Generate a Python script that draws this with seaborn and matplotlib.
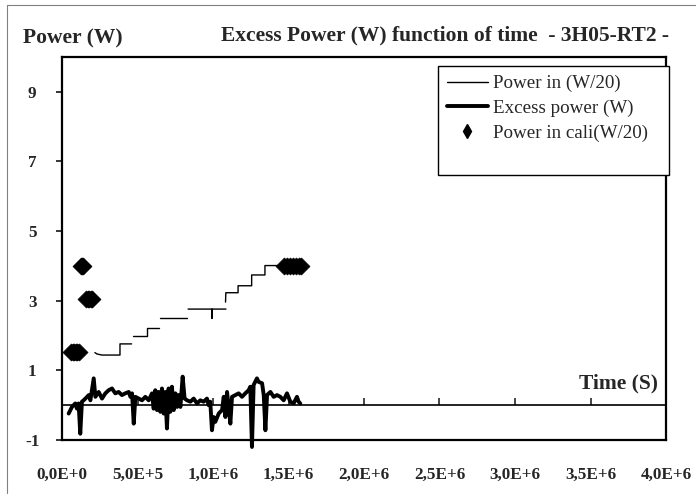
import matplotlib
matplotlib.use("Agg")
import numpy as np
import pandas as pd
import matplotlib.pyplot as plt
from matplotlib.lines import Line2D
import seaborn as sns

# --- data (time in kiloseconds, power in W) ---
# Power in (W/20): stepped trace, drawn in separate pieces
power_in_seg = [1] * 6 + [2] * 4 + [3] * 2 + [4] * 5 + [5] * 9
power_in_time_k = [218, 232, 265, 384, 384, 461,
                   470, 563, 563, 642,
                   649, 828,
                   835, 992, 993, 994, 1086,
                   1083, 1085, 1166, 1166, 1256, 1256, 1344, 1344, 1560]
power_in_val = [1.51, 1.47, 1.44, 1.44, 1.76, 1.76,
                2.00, 2.00, 2.23, 2.23,
                2.49, 2.49,
                2.76, 2.76, 2.49, 2.76, 2.76,
                2.96, 3.23, 3.23, 3.43, 3.43, 3.74, 3.74, 4.01, 4.01]

# Excess power (W)
excess_time_k = [44, 66, 88, 99, 110, 121, 132, 143, 155, 177,
                 188, 210, 221, 243, 265, 287, 309, 331, 353, 375,
                 397, 419, 442, 453, 464, 475, 486, 508, 530, 552,
                 574, 596, 607, 618, 629, 640, 651, 662, 673, 684,
                 695, 706, 717, 728, 740, 751, 762, 773, 784, 799,
                 812, 828, 850, 872, 894, 916, 938, 960, 971, 982,
                 993, 1004, 1015, 1038, 1060, 1071, 1082, 1093, 1104, 1115,
                 1126, 1148, 1170, 1192, 1214, 1236, 1247, 1258, 1269, 1291,
                 1302, 1325, 1336, 1347, 1358, 1380, 1402, 1424, 1446, 1468,
                 1490, 1512, 1534, 1556, 1567, 1578]
excess_val = [-0.24, -0.05, 0.05, -0.10, 0.05, -0.82, 0.10, 0.14, 0.19, 0.29,
              0.14, 0.77, 0.24, 0.38, 0.19, 0.34, 0.43, 0.48, 0.34, 0.38,
              0.29, 0.34, 0.38, 0.24, 0.34, -0.53, 0.24, 0.19, 0.14, 0.24,
              0.14, 0.34, -0.10, 0.43, -0.14, 0.38, -0.19, 0.48, -0.24, 0.38,
              -0.67, 0.48, -0.19, 0.53, -0.14, 0.34, -0.05, 0.29, -0.05, 0.82,
              0.19, 0.14, 0.10, 0.19, 0.05, 0.14, 0.10, 0.19, 0.00, 0.10,
              -0.72, -0.34, -0.48, -0.24, -0.14, 0.24, -0.34, 0.38, -0.05, -0.53,
              0.24, 0.29, 0.34, 0.24, 0.34, 0.43, 0.53, -1.20, 0.58, 0.77,
              0.67, 0.63, 0.29, -0.72, 0.29, 0.38, 0.24, 0.29, 0.24, 0.14,
              0.34, 0.10, 0.05, 0.24, 0.10, 0.05]

# Power in cali (W/20)
cali_time_k = [60, 70, 80, 90, 100, 110,
               126, 134, 140,
               160, 170, 180, 190, 200,
               1470, 1490, 1510, 1530, 1550, 1570, 1580]
cali_val = [1.54] * 6 + [4.01] * 3 + [3.05] * 5 + [4.01] * 7

x_ticks = [0, 5e5, 1e6, 1.5e6, 2e6, 2.5e6, 3e6, 3.5e6, 4e6]
x_tick_labels = ["0,0E+0", "5,0E+5", "1,0E+6", "1,5E+6", "2,0E+6",
                 "2,5E+6", "3,0E+6", "3,5E+6", "4,0E+6"]
y_ticks = [-1, 1, 3, 5, 7, 9]
legend_labels = ["Power in (W/20)", "Excess power (W)", "Power in cali(W/20)", " "]

df_in = pd.DataFrame({"t": np.array(power_in_time_k) * 1e3, "p": power_in_val,
                      "seg": power_in_seg})
df_ex = pd.DataFrame({"t": np.array(excess_time_k) * 1e3, "p": excess_val})
df_cal = pd.DataFrame({"t": np.array(cali_time_k) * 1e3, "p": cali_val})

sns.set_style("white")
plt.rcParams["font.family"] = ["Liberation Serif", "DejaVu Serif"]

W, H = 696, 504
fig = plt.figure(figsize=(W / 100, H / 100), dpi=100)
ax = fig.add_axes([62 / W, 1 - 440 / H, 604 / W, 383 / H])

sns.lineplot(data=df_in, x="t", y="p", units="seg", estimator=None, sort=False,
             color="black", lw=1.0, ax=ax)
sns.lineplot(data=df_ex, x="t", y="p", estimator=None, sort=False,
             color="black", lw=2.8, clip_on=False, ax=ax)
sns.scatterplot(data=df_cal, x="t", y="p", marker="D", s=75, color="black",
                edgecolor="black", linewidth=0.5, ax=ax, zorder=3)

ymin, ymax = -1, 10
ax.set_xlim(0, 4e6)
ax.set_ylim(ymin, ymax)
ax.set_xlabel("")
ax.set_ylabel("")

ax.set_xticks(x_ticks)
ax.set_xticklabels(x_tick_labels, fontweight="bold", fontsize=12.3)
ax.tick_params(axis="x", length=0, pad=19)
ax.set_yticks(y_ticks)
ax.set_yticklabels([str(v) for v in y_ticks], fontweight="bold", fontsize=12.3)
for lab in ax.get_yticklabels():
    lab.set_horizontalalignment("center")
ax.tick_params(axis="y", direction="out", length=4.5, width=1.3, pad=17, left=True)
for s in ax.spines.values():
    s.set_visible(True)
    s.set_color("black")
    s.set_linewidth(1.6)

# zero line carrying the x ticks
secax = ax.secondary_xaxis((0 - ymin) / (ymax - ymin))
secax.set_xticks(x_ticks)
secax.tick_params(direction="in", length=5, width=1.2, labelbottom=False, labeltop=False)
for s in secax.spines.values():
    s.set_linewidth(1.2)
    s.set_color("black")

handles = [Line2D([], [], color="black", lw=1.0),
           Line2D([], [], color="black", lw=2.8),
           Line2D([], [], ls="none", marker="d", ms=7, color="black"),
           Line2D([], [], ls="none")]
leg = ax.legend(handles, legend_labels, loc="upper left", mode="expand",
                bbox_to_anchor=(438 / W, 1 - 172 / H, (669 - 438) / W, (172 - 66) / H),
                bbox_transform=fig.transFigure,
                borderaxespad=0, fancybox=False, framealpha=1, edgecolor="black",
                prop={"family": ["Liberation Serif"], "size": 13.7},
                handlelength=2.15, handletextpad=0.26, labelspacing=0.38, borderpad=0.47)
leg.get_frame().set_linewidth(1.0)

fig.text(22.7 / W, 1 - 38 / H, "Power (W)", fontweight="bold", fontsize=15.5,
         ha="left", va="center")
fig.text(669 / W, 1 - 35 / H, "Excess Power (W) function of time  - 3H05-RT2 -",
         fontweight="bold", fontsize=15.5, ha="right", va="center")
ax.text((658 - 62) / 604, (440 - 383) / 383, "Time (S)", transform=ax.transAxes,
        fontweight="bold", fontsize=15.5, ha="right", va="center")

# outer chart-area border (top and left edges are visible in the picture)
fig.add_artist(Line2D([7 / W, 7 / W], [1 - 493 / H, 1 - 5 / H], transform=fig.transFigure,
                      color="#808080", lw=0.8))
fig.add_artist(Line2D([7 / W, 1], [1 - 5 / H, 1 - 5 / H], transform=fig.transFigure,
                      color="#808080", lw=0.8))

fig.savefig("out.png", dpi=100)
